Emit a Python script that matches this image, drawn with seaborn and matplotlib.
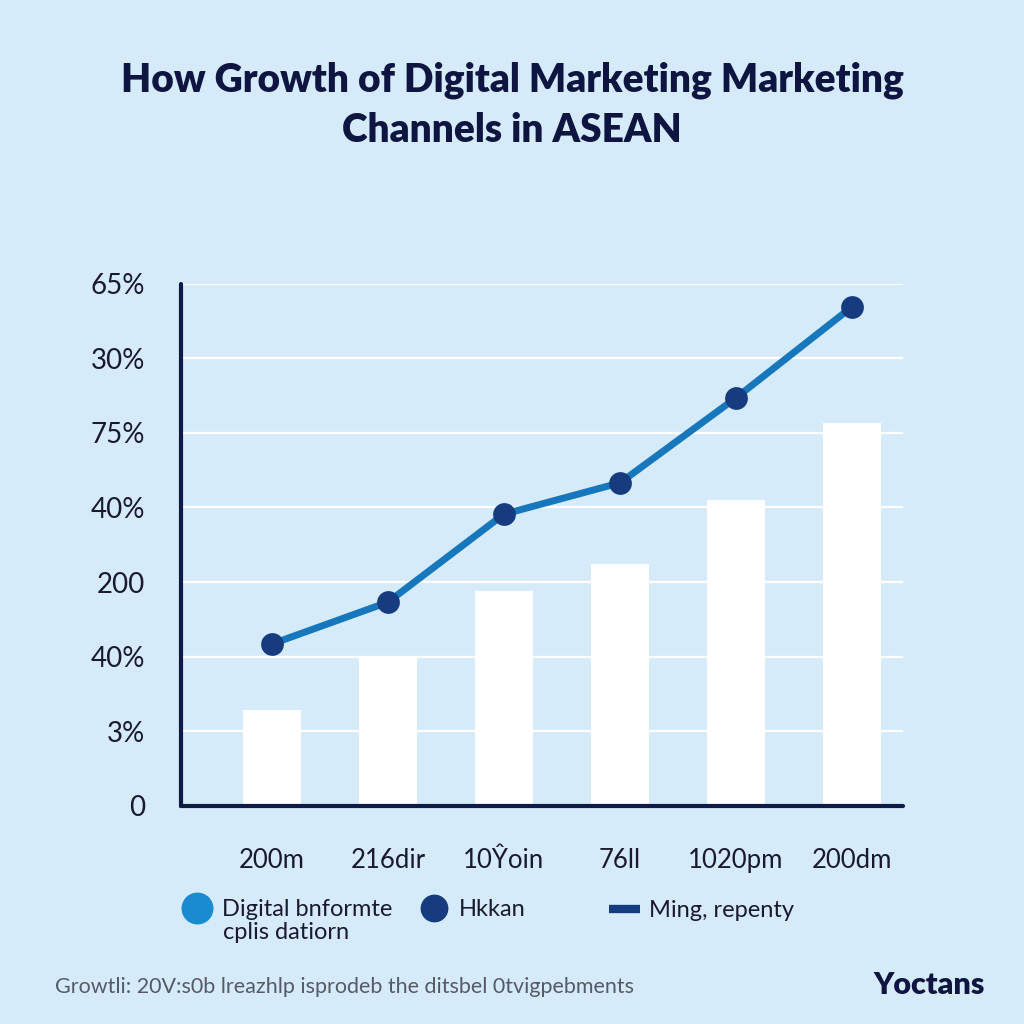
import numpy as np
import pandas as pd
import matplotlib.pyplot as plt
from matplotlib.lines import Line2D
import seaborn as sns

# chart data
categories = ["200m", "216dir", "10Ŷoin", "76ll", "1020pm", "200dm"]
bar_values = [1.29, 2.0, 2.88, 3.24, 4.10, 5.13]
line_values = [2.17, 2.73, 3.91, 4.33, 5.47, 6.69]
ytick_pos = [0, 1, 2, 3, 4, 5, 6, 7]
ytick_labels = ["0", "3%", "40%", "200", "40%", "75%", "30%", "65%"]
legend_labels = ["Digital bnformte", "Hkkan", "Ming, repenty"]
legend_label_line2 = "cplis datiorn"

bg = "#d6ebf9"
navy = "#0f1a45"
line_blue = "#1677bd"
dot_navy = "#163b7e"

sns.set_theme(style="white")
plt.rcParams["font.family"] = ["Lato", "DejaVu Sans"]

df = pd.DataFrame({"cat": categories, "bar": bar_values, "line": line_values})

fig = plt.figure(figsize=(10.24, 10.24), dpi=100, facecolor=bg)
ax = fig.add_axes([0.177, 0.213, 0.705, 0.510])
ax.set_facecolor(bg)

sns.barplot(data=df, x="cat", y="bar", color="white", width=0.5,
            saturation=1, edgecolor="none", ax=ax, zorder=2)
ax.plot(range(len(categories)), line_values, color=line_blue, lw=5, zorder=3)
sns.scatterplot(x=range(len(categories)), y=df["line"], color=dot_navy, s=230,
                edgecolor=dot_navy, ax=ax, zorder=4)

ax.set_xlim(-0.78, 5.44)
ax.set_ylim(0, 7)
ax.set_yticks(ytick_pos)
ax.set_yticklabels(ytick_labels, fontsize=20, color="#1a1a2e")
ax.set_xticks(range(len(categories)))
ax.set_xticklabels(categories, fontsize=18.5, color="#1a1a2e")
ax.tick_params(axis="y", length=0, pad=26)
ax.tick_params(axis="x", length=0, pad=30)
for y in ytick_pos[1:]:
    ax.axhline(y, color="white", lw=1.6, zorder=1)
ax.set_xlabel("")
ax.set_ylabel("")
for s in ["top", "right"]:
    ax.spines[s].set_visible(False)
for s in ["left", "bottom"]:
    ax.spines[s].set_color(navy)
    ax.spines[s].set_linewidth(3)
    ax.spines[s].set_capstyle("round")

fig.text(0.5, 0.922, "How Growth of Digital Marketing Marketing", ha="center",
         va="center", fontsize=28, fontweight="heavy", color="#0d1540")
fig.text(0.5, 0.873, "Channels in ASEAN", ha="center", va="center",
         fontsize=28, fontweight="heavy", color="#0d1540")

handles = [
    Line2D([], [], marker="o", ls="none", color="#1a8bd0", markersize=22),
    Line2D([], [], marker="o", ls="none", color=dot_navy, markersize=19),
    Line2D([], [], ls="-", color=dot_navy, lw=6, solid_capstyle="butt"),
]
leg_kw = dict(loc="center left", frameon=False, fontsize=17, handlelength=1.3,
              handletextpad=0.4, labelcolor="#1a1a2e")
fig.legend(handles[:2], legend_labels[:2], bbox_to_anchor=(0.157, 0.112),
           ncol=2, columnspacing=1.1, **leg_kw)
fig.legend(handles[2:], legend_labels[2:], bbox_to_anchor=(0.574, 0.111),
           ncol=1, **leg_kw)
fig.text(0.2175, 0.089, legend_label_line2, fontsize=17, color="#1a1a2e",
         va="center")

fig.text(0.054, 0.036, "Growtli: 20V:s0b lreazhlp isprodeb the ditsbel 0tvigpebments",
         fontsize=15.5, color="#555a66", va="center")
fig.text(0.853, 0.038, "Yoctans", fontsize=22, fontweight="heavy",
         color="#0d1540", va="center")

fig.savefig("out.png", dpi=100, facecolor=bg)
